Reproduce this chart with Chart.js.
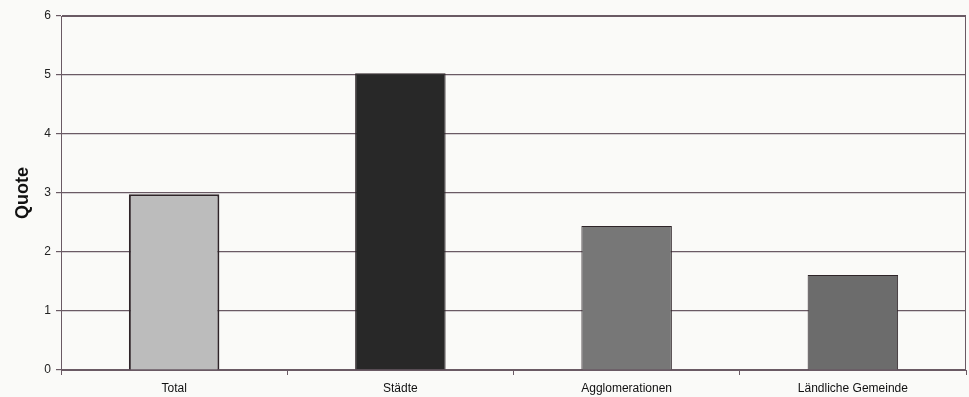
<!DOCTYPE html>
<html>
<head>
<meta charset="utf-8">
<script src="https://cdn.jsdelivr.net/npm/chart.js@4"></script>
<style>
  html, body { margin: 0; padding: 0; background: #fafaf8; }
  #wrap { width: 969px; height: 397px; }
</style>
</head>
<body>
<div id="wrap"><canvas id="chart" width="969" height="397"></canvas></div>
<script>
// values
const categories = ['Total', 'Städte', 'Agglomerationen', 'Ländliche Gemeinde'];
const quoteValues = [2.98, 5.03, 2.44, 1.61];
const barColors = ['#bcbcbc', '#282828', '#777777', '#6c6c6c'];
const yTicks = [0, 1, 2, 3, 4, 5, 6];

// box around the plot area
const frame = {
  id: 'frame',
  afterDraw(chart) {
    const { ctx, chartArea: a } = chart;
    ctx.save();
    ctx.strokeStyle = '#6a5a64';
    ctx.lineWidth = 1;
    ctx.strokeRect(a.left + 0.5, a.top + 0.5, a.right - a.left - 1, a.bottom - a.top);
    ctx.restore();
  }
};

const ctx = document.getElementById('chart').getContext('2d');
new Chart(ctx, {
  type: 'bar',
  data: {
    labels: categories,
    datasets: [{
      label: 'Quote',
      data: quoteValues,
      backgroundColor: barColors,
      borderColor: '#2e2428',
      borderWidth: [2, 1, 1, 1],
      barPercentage: 0.4,
      categoryPercentage: 1
    }]
  },
  options: {
    responsive: false,
    animation: false,
    layout: { padding: { top: 16, right: 3, left: 0, bottom: 0 } },
    plugins: { legend: { display: false }, tooltip: { enabled: false } },
    scales: {
      x: {
        grid: { display: true, drawOnChartArea: false, drawTicks: true, tickLength: 5, offset: true, color: '#6a5a64' },
        border: { color: '#6a5a64' },
        ticks: { color: '#111', font: { family: 'Liberation Sans', size: 12 }, padding: 6 },
        afterFit: s => { s.height = 27; }
      },
      y: {
        min: 0,
        max: 6,
        afterBuildTicks: s => { s.ticks = yTicks.map(v => ({ value: v })); },
        grid: { color: '#6a5a64', lineWidth: 1.2, tickLength: 5 },
        border: { color: '#6a5a64' },
        ticks: { color: '#222', font: { family: 'Liberation Sans', size: 12 }, padding: 5 },
        title: { display: true, text: 'Quote', color: '#111', font: { family: 'Liberation Sans', size: 18, weight: 'bold' }, padding: { top: 12, bottom: 0 } },
        afterFit: s => { s.width = 61; }
      }
    }
  },
  plugins: [frame]
});
</script>
</body>
</html>
